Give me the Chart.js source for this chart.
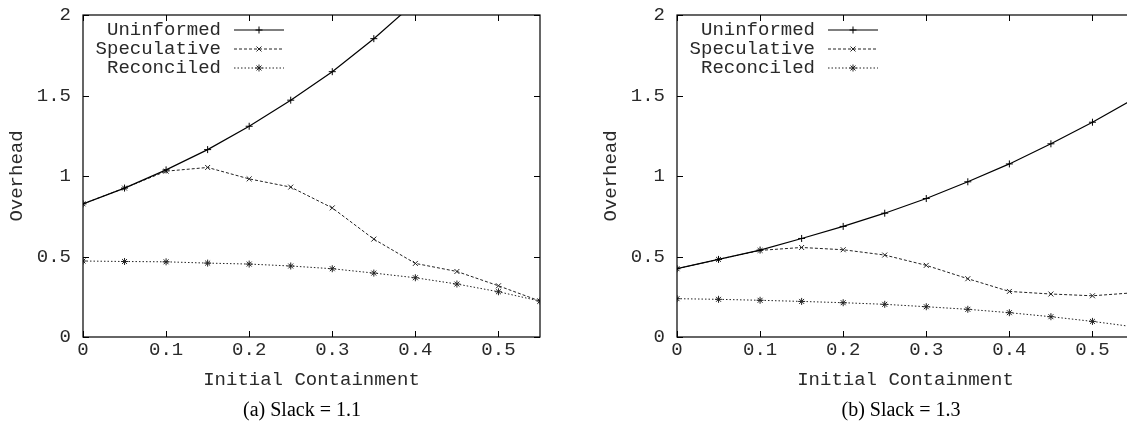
<!DOCTYPE html>
<html>
<head>
<meta charset="utf-8">
<script src="https://cdn.jsdelivr.net/npm/chart.js@4/dist/chart.umd.min.js"></script>
<style>
html, body { margin: 0; padding: 0; background: #fff; overflow: hidden; width: 1127px; height: 444px; }
.panel { position: absolute; top: 0; width: 560px; height: 400px; }
#pa { left: 0; }
#pb { left: 594px; }
.cap { position: absolute; font-family: "Liberation Serif", "DejaVu Serif", serif; font-size: 20px; color: #000; white-space: nowrap; transform: translateX(-50%); }
</style>
</head>
<body>
<div class="panel" id="pa"><canvas id="ca" width="560" height="400"></canvas></div>
<div class="panel" id="pb"><canvas id="cb" width="560" height="400"></canvas></div>
<div class="cap" style="left:302px; top:398px;">(a) Slack = 1.1</div>
<div class="cap" style="left:901px; top:398px;">(b) Slack = 1.3</div>
<script>
'use strict';
// Two gnuplot-style panels: overhead vs initial containment, slack 1.1 and 1.3.

const containment = [0, 0.05, 0.1, 0.15, 0.2, 0.25, 0.3, 0.35, 0.4, 0.45, 0.5, 0.55];
const seriesNames = ['Uninformed', 'Speculative', 'Reconciled'];

// (a) Slack = 1.1  (uninformed runs off the top after ~0.38)
const uninformedA  = [0.827, 0.925, 1.038, 1.164, 1.309, 1.471, 1.648, 1.853, 2.08, 2.32, 2.59, 2.88];
const speculativeA = [0.827, 0.925, 1.030, 1.053, 0.982, 0.931, 0.802, 0.608, 0.457, 0.407, 0.318, 0.223];
const reconciledA  = [0.472, 0.469, 0.467, 0.459, 0.453, 0.441, 0.424, 0.397, 0.368, 0.329, 0.281, 0.223];

// (b) Slack = 1.3
const uninformedB  = [0.424, 0.482, 0.540, 0.612, 0.687, 0.769, 0.860, 0.964, 1.075, 1.200, 1.334, 1.48];
const speculativeB = [0.424, 0.482, 0.538, 0.556, 0.542, 0.509, 0.445, 0.362, 0.283, 0.267, 0.256, 0.275];
const reconciledB  = [0.238, 0.234, 0.228, 0.221, 0.213, 0.203, 0.188, 0.172, 0.151, 0.126, 0.097, 0.063];

const xTicks = [0, 0.1, 0.2, 0.3, 0.4, 0.5];
const yTicks = [0, 0.5, 1, 1.5, 2];

const MONO = '"Liberation Mono", "DejaVu Sans Mono", monospace';
const INK = '#2a2a2a';

const styles = [
  { borderColor: '#000', borderWidth: 1.2, borderDash: [], pointStyle: 'cross' },
  { borderColor: '#222', borderWidth: 1, borderDash: [3, 2], pointStyle: 'crossRot' },
  { borderColor: '#222', borderWidth: 1, borderDash: [1.5, 2], pointStyle: 'star' },
];

// invisible tick marks: they only reserve the gap between axis and labels
const hiddenGrid = (len) => ({ display: true, drawOnChartArea: false, drawTicks: true, tickLength: len, color: 'rgba(0,0,0,0)', tickColor: 'rgba(0,0,0,0)' });

// frame, inward mirrored ticks and the gnuplot-like key
const frame = {
  id: 'frame',
  afterDraw(chart) {
    const { ctx, chartArea: a, scales: { x, y } } = chart;
    ctx.save();
    ctx.strokeStyle = '#000';
    ctx.lineWidth = 1.2;
    ctx.strokeRect(a.left, a.top, a.right - a.left, a.bottom - a.top);
    ctx.lineWidth = 1;
    ctx.beginPath();
    x.ticks.forEach((t) => {
      const px = Math.round(x.getPixelForValue(t.value)) + 0.5;
      ctx.moveTo(px, a.bottom); ctx.lineTo(px, a.bottom - 6);
      ctx.moveTo(px, a.top); ctx.lineTo(px, a.top + 6);
    });
    y.ticks.forEach((t) => {
      const py = Math.round(y.getPixelForValue(t.value)) + 0.5;
      ctx.moveTo(a.left, py); ctx.lineTo(a.left + 6, py);
      ctx.moveTo(a.right, py); ctx.lineTo(a.right - 6, py);
    });
    ctx.stroke();

    // key
    ctx.font = '19px ' + MONO;
    ctx.textAlign = 'right';
    ctx.textBaseline = 'middle';
    chart.data.datasets.forEach((ds, i) => {
      const ry = a.top + 15 + i * 19;
      ctx.fillStyle = INK;
      ctx.fillText(ds.label, a.left + 138, ry);
      ctx.save();
      ctx.strokeStyle = ds.borderColor;
      ctx.lineWidth = ds.borderWidth;
      ctx.setLineDash(ds.borderDash);
      ctx.beginPath();
      ctx.moveTo(a.left + 151, ry); ctx.lineTo(a.left + 201, ry);
      ctx.stroke();
      ctx.restore();
      ctx.strokeStyle = ds.borderColor;
      ctx.fillStyle = ds.borderColor;
      Chart.helpers.drawPoint(ctx, { pointStyle: ds.pointStyle, radius: 3.5, borderWidth: 1, rotation: 0 }, a.left + 176, ry);
    });
    ctx.restore();
  },
};

function makePanel(canvasId, series) {
  const datasets = series.map((vals, i) => ({
    label: seriesNames[i],
    data: containment.map((c, j) => ({ x: c, y: vals[j] })),
    borderColor: styles[i].borderColor,
    borderWidth: styles[i].borderWidth,
    borderDash: styles[i].borderDash,
    pointStyle: styles[i].pointStyle,
    pointRadius: 3.5,
    pointBorderWidth: 1,
    pointBorderColor: styles[i].borderColor,
    pointBackgroundColor: styles[i].borderColor,
    fill: false,
    tension: 0,
  }));

  return new Chart(document.getElementById(canvasId).getContext('2d'), {
    type: 'line',
    data: { datasets },
    plugins: [frame],
    options: {
      responsive: false,
      animation: false,
      layout: { padding: { left: 6, right: 20, top: 15, bottom: 0 } },
      plugins: { legend: { display: false }, tooltip: { enabled: false } },
      scales: {
        x: {
          type: 'linear', min: 0, max: 0.55,
          grid: hiddenGrid(2), border: { display: false },
          afterBuildTicks: (s) => { s.ticks = xTicks.map((v) => ({ value: v })); },
          afterFit: (s) => { s.height = 63; },
          ticks: { padding: 0, color: INK, font: { family: MONO, size: 19 }, callback: (v) => String(v), maxRotation: 0 },
          title: { display: true, text: 'Initial Containment', color: INK, font: { family: MONO, size: 19 }, padding: { top: 0, bottom: 9 } },
        },
        y: {
          type: 'linear', min: 0, max: 2,
          grid: hiddenGrid(12), border: { display: false },
          afterBuildTicks: (s) => { s.ticks = yTicks.map((v) => ({ value: v })); },
          afterFit: (s) => { s.width = 77; },
          ticks: { padding: 0, color: INK, font: { family: MONO, size: 19 }, callback: (v) => String(v) },
          title: { display: true, text: 'Overhead', color: INK, font: { family: MONO, size: 19 }, padding: { top: 0, bottom: 0 } },
        },
      },
    },
  });
}

makePanel('ca', [uninformedA, speculativeA, reconciledA]);
makePanel('cb', [uninformedB, speculativeB, reconciledB]);
</script>
</body>
</html>
